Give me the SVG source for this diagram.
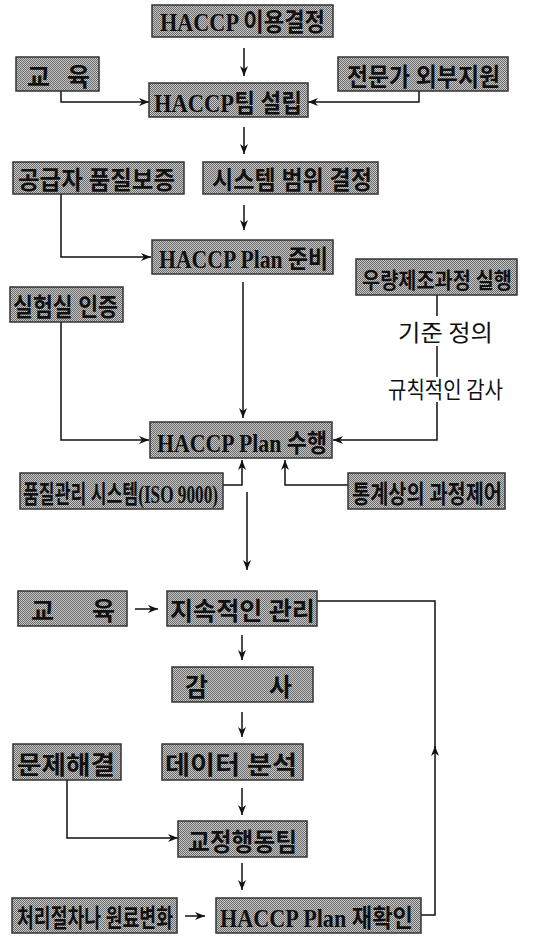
<svg xmlns="http://www.w3.org/2000/svg" width="547" height="937" viewBox="0 0 547 937">
<style>
.box{fill:url(#ht);stroke:#333;stroke-width:1.5}
.bt{font-family:"Liberation Serif","Noto Sans CJK KR",serif;font-weight:bold;font-size:25px;fill:#111}
.pl{font-family:"Noto Sans CJK KR","Noto Sans",sans-serif;font-size:23px;fill:#111}
.ln{fill:none;stroke:#111;stroke-width:1.5}
.ar{marker-end:url(#ah)}
</style>
<defs>
<pattern id="ht" width="2" height="2" patternUnits="userSpaceOnUse">
<rect width="2" height="2" fill="#c8c8c8"/>
<rect width="1" height="1" fill="#6a6a6a"/>
<rect x="1" y="1" width="1" height="1" fill="#6a6a6a"/>
</pattern>
<marker id="ah" markerUnits="userSpaceOnUse" markerWidth="12" markerHeight="10" refX="10" refY="4" orient="auto">
<path d="M0,0 L10,4 L0,8 L3,4 z" fill="#111"/>
</marker>
</defs>
<rect width="547" height="937" fill="#fff"/>
<g id="connectors">
<path class="ln ar" d="M244,48 V76"/>
<path class="ln ar" d="M61,91 V102 H149"/>
<path class="ln ar" d="M419,91 V102 H308"/>
<path class="ln ar" d="M244,127 V154"/>
<path class="ln ar" d="M61,194 V257 H151"/>
<path class="ln ar" d="M244,205 V230"/>
<path class="ln ar" d="M243,282 V418"/>
<path class="ln ar" d="M61,322 V440 H149"/>
<path class="ln" d="M437,295 V316"/>
<path class="ln" d="M437,346 V377"/>
<path class="ln ar" d="M437,402 V440 H333"/>
<path class="ln ar" d="M223,485 H242 V460"/>
<path class="ln ar" d="M348,485 H285 V460"/>
<path class="ln ar" d="M247,492 V570"/>
<path class="ln ar" d="M135,609 H158"/>
<path class="ln ar" d="M242,635 V660"/>
<path class="ln ar" d="M242,712 V737"/>
<path class="ln ar" d="M242,788 V815"/>
<path class="ln ar" d="M67,780 V838 H178"/>
<path class="ln ar" d="M242,863 V890"/>
<path class="ln ar" d="M185,916 H205"/>
<path class="ln ar" d="M421,915 H435 V746"/>
<path class="ln" d="M435,748 V601 H317"/>
</g>
<g id="n1"><rect class="box" x="152" y="5" width="181" height="32"/><text class="bt" x="160" y="31" textLength="165" lengthAdjust="spacingAndGlyphs">HACCP 이용결정</text></g>
<g id="n2"><rect class="box" x="16" y="57" width="83" height="34"/><text class="bt" y="86"><tspan x="27">교</tspan><tspan x="67">육</tspan></text></g>
<g id="n3"><rect class="box" x="338" y="57" width="170" height="34"/><text class="bt" x="347" y="86" textLength="153" lengthAdjust="spacingAndGlyphs">전문가 외부지원</text></g>
<g id="n4"><rect class="box" x="149" y="83" width="159" height="34"/><text class="bt" x="154" y="112" textLength="148" lengthAdjust="spacingAndGlyphs">HACCP팀 설립</text></g>
<g id="n5"><rect class="box" x="13" y="162" width="171" height="32"/><text class="bt" x="18" y="189" textLength="157" lengthAdjust="spacingAndGlyphs">공급자 품질보증</text></g>
<g id="n6"><rect class="box" x="203" y="162" width="175" height="32"/><text class="bt" x="212" y="189" textLength="160" lengthAdjust="spacingAndGlyphs">시스템 범위 결정</text></g>
<g id="n7"><rect class="box" x="152" y="240" width="181" height="34"/><text class="bt" x="159" y="268" textLength="169" lengthAdjust="spacingAndGlyphs">HACCP Plan 준비</text></g>
<g id="n8"><rect class="box" x="356" y="259" width="161" height="36"/><text class="bt" x="362" y="288" style="font-size:22px" textLength="150" lengthAdjust="spacingAndGlyphs">우량제조과정 실행</text></g>
<g id="n9"><rect class="box" x="10" y="287" width="113" height="35"/><text class="bt" x="13" y="316" textLength="105" lengthAdjust="spacingAndGlyphs">실험실 인증</text></g>
<g id="n10"><rect class="box" x="150" y="422" width="182" height="36"/><text class="bt" x="157" y="452" textLength="170" lengthAdjust="spacingAndGlyphs">HACCP Plan 수행</text></g>
<g id="n11"><rect class="box" x="20" y="473" width="203" height="36"/><text class="bt" x="23" y="503" textLength="195" lengthAdjust="spacingAndGlyphs">품질관리 시스템(ISO 9000)</text></g>
<g id="n12"><rect class="box" x="348" y="473" width="157" height="36"/><text class="bt" x="352" y="503" textLength="150" lengthAdjust="spacingAndGlyphs">통계상의 과정제어</text></g>
<g id="n13"><rect class="box" x="18" y="591" width="109" height="35"/><text class="bt" y="620"><tspan x="31">교</tspan><tspan x="92">육</tspan></text></g>
<g id="n14"><rect class="box" x="167" y="591" width="150" height="35"/><text class="bt" x="170" y="620" textLength="145" lengthAdjust="spacingAndGlyphs">지속적인 관리</text></g>
<g id="n15"><rect class="box" x="172" y="667" width="141" height="35"/><text class="bt" y="696"><tspan x="185">감</tspan><tspan x="269">사</tspan></text></g>
<g id="n16"><rect class="box" x="13" y="744" width="108" height="36"/><text class="bt" x="17" y="774" textLength="98" lengthAdjust="spacingAndGlyphs">문제해결</text></g>
<g id="n17"><rect class="box" x="162" y="744" width="141" height="36"/><text class="bt" x="165" y="774" textLength="132" lengthAdjust="spacingAndGlyphs">데이터 분석</text></g>
<g id="n18"><rect class="box" x="178" y="821" width="129" height="36"/><text class="bt" x="188" y="851" textLength="109" lengthAdjust="spacingAndGlyphs">교정행동팀</text></g>
<g id="n19"><rect class="box" x="12" y="898" width="165" height="35"/><text class="bt" x="17" y="927" textLength="156" lengthAdjust="spacingAndGlyphs">처리절차나 원료변화</text></g>
<g id="n20"><rect class="box" x="216" y="898" width="205" height="35"/><text class="bt" x="220" y="927" textLength="193" lengthAdjust="spacingAndGlyphs">HACCP Plan 재확인</text></g>
<g id="l1"><text class="pl" x="398" y="341" textLength="95" lengthAdjust="spacingAndGlyphs">기준 정의</text></g>
<g id="l2"><text class="pl" x="388" y="398" textLength="115" lengthAdjust="spacingAndGlyphs">규칙적인 감사</text></g>
</svg>
